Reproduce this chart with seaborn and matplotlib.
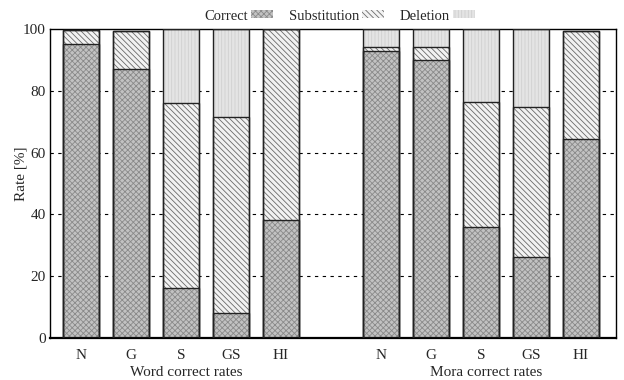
import matplotlib
matplotlib.use("Agg")
import matplotlib.pyplot as plt
import seaborn as sns
import pandas as pd
import numpy as np
from matplotlib.patches import Patch

sns.set_theme(style="white")
plt.rcParams['font.family'] = ['Liberation Serif', 'DejaVu Serif']
plt.rcParams['hatch.linewidth'] = 0.6

conditions = ["N", "G", "S", "GS", "HI"]
groups = ["Word correct rates", "Mora correct rates"]
word_correct = [95.0, 87.1, 16.3, 8.2, 38.2]
word_subst = [4.6, 12.1, 59.7, 63.3, 61.8]
word_delet = [0.0, 0.0, 24.0, 28.5, 0.0]
mora_correct = [92.9, 89.9, 36.0, 26.3, 64.5]
mora_subst = [1.2, 4.4, 40.3, 48.3, 34.7]
mora_delet = [5.9, 5.7, 23.7, 25.4, 0.0]
yticks = [0, 20, 40, 60, 80, 100]

rows = []
for gi, (c, s, d) in enumerate([(word_correct, word_subst, word_delet),
                                (mora_correct, mora_subst, mora_delet)]):
    for i, cond in enumerate(conditions):
        rows.append(dict(pos=gi * 6 + i, cond=cond, group=groups[gi],
                         correct=c[i], subst=s[i], delet=d[i]))
df = pd.DataFrame(rows)
df["top_corr"] = df["correct"]
df["top_sub"] = df["correct"] + df["subst"]
df["top_del"] = df["top_sub"] + df["delet"]

fig = plt.figure(figsize=(6.24, 3.8), dpi=100)
ax = fig.add_axes([50/624, 42/380, 566/624, 309/380])

styles = [
    ("top_del", "#e4e4e4", "|||||", "#cfcfcf"),
    ("top_sub", "#f2f2f2", "\\\\\\\\\\\\", "#6a6a6a"),
    ("top_corr", "#c2c2c2", "xxxxxx", "#8a8a8a"),
]
width = 0.72
for col, fc, hatch, hc in styles:
    n0 = len(ax.patches)
    sns.barplot(data=df, x="pos", y=col, native_scale=True, width=width,
                color=fc, saturation=1, ax=ax, zorder=2, errorbar=None)
    for p in ax.patches[n0:]:
        p.set_facecolor(fc)
        p.set_hatch(hatch)
        p.set_edgecolor(hc)
        p.set_linewidth(0)
        x, y = p.get_x(), p.get_y()
        w, h = p.get_width(), p.get_height()
        if h > 0:
            ax.add_patch(plt.Rectangle((x, y), w, h, fill=False,
                                       edgecolor="#222222", linewidth=1.0, zorder=3))

ax.set_xlim(-0.62, 10.7)
ax.set_ylim(0, 100)
ax.set_yticks(yticks)
ax.set_yticklabels([str(v) for v in yticks], fontsize=11)
ax.set_xticks(df["pos"])
ax.set_xticklabels(df["cond"], fontsize=11)
ax.tick_params(axis="x", length=0, pad=8)
ax.tick_params(axis="y", length=0, pad=3)
for v in yticks[1:-1]:
    ax.axhline(v, color="black", linestyle=(0, (3, 4)), linewidth=0.8, zorder=1)
ax.grid(False)
ax.set_xlabel("")
ax.set_ylabel("Rate [%]", fontsize=11)
ax.yaxis.set_label_coords(-0.040, 0.53)
for sp in ax.spines.values():
    sp.set_color("black")
    sp.set_linewidth(1.0)
ax.spines["bottom"].set_linewidth(1.6)

ax.text(2.1, -0.113, groups[0], transform=ax.get_xaxis_transform(),
        ha="center", va="center", fontsize=11)
ax.text(8.1, -0.113, groups[1], transform=ax.get_xaxis_transform(),
        ha="center", va="center", fontsize=11)

handles = [Patch(facecolor=styles[2][1], hatch=styles[2][2], edgecolor=styles[2][3], linewidth=0),
           Patch(facecolor=styles[1][1], hatch=styles[1][2], edgecolor=styles[1][3], linewidth=0),
           Patch(facecolor=styles[0][1], hatch=styles[0][2], edgecolor=styles[0][3], linewidth=0)]
leg = ax.legend(handles, ["Correct", "Substitution", "Deletion"], ncol=3,
                loc="lower center", bbox_to_anchor=(0.512, 0.995), frameon=False,
                markerfirst=False, fontsize=10.5, handlelength=1.5, handleheight=0.45,
                columnspacing=1.1, handletextpad=0.2, borderaxespad=0.15)

fig.savefig("out.png", dpi=100)
